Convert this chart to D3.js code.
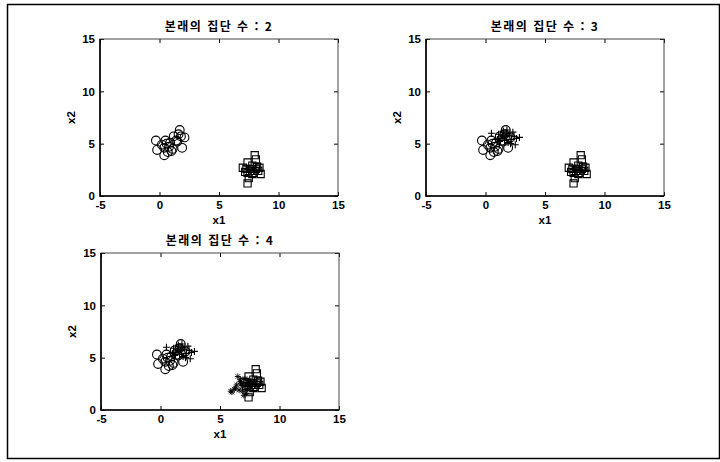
<!DOCTYPE html>
<html lang="ko">
<head>
  <meta charset="UTF-8">
  <script src="https://cdn.jsdelivr.net/npm/d3@7"></script>
  <title>본래의 집단 수</title>
  <style>
    body { margin: 0; background: #fff; }
    svg { display: block; }
  </style>
</head>
<body>
  <svg></svg>
<script>
const width = 720;
const height = 462;

// 축 범위와 눈금
const xTicks = [-5, 0, 5, 10, 15];
const yTicks = [0, 5, 10, 15];
const titles = ['본래의 집단 수 : 2', '본래의 집단 수 : 3', '본래의 집단 수 : 4'];

// 집단 A (원)
const groupA = [
  [-0.3, 5.3], [-0.2, 4.4], [0.4, 3.9], [0.5, 5.3], [1.7, 6.3], [1.9, 4.6],
  [2.1, 5.6], [1.0, 4.3], [1.4, 5.3], [0.8, 4.7], [0.6, 5.0], [1.2, 5.7],
  [1.6, 5.9], [0.2, 4.9], [1.1, 4.5], [0.9, 5.1], [0.4, 4.6], [1.5, 5.2],
  [1.8, 5.7], [0.7, 4.2]
];
// 집단 B (사각형)
const groupB = [
  [8.0, 3.9], [8.1, 3.5], [7.4, 3.2], [7.0, 2.7], [8.4, 2.7], [8.5, 2.1],
  [7.5, 1.7], [7.4, 1.2], [7.4, 2.2], [7.8, 2.1], [7.7, 2.6], [8.0, 2.4],
  [7.8, 2.9], [7.3, 2.6], [8.2, 2.8], [7.9, 2.2], [7.6, 2.4], [8.1, 2.6],
  [7.2, 2.3], [8.3, 2.4]
];
// 집단 C (+)
const groupC = [
  [0.5, 6.0], [2.85, 5.6], [2.5, 4.9], [1.5, 6.2], [1.8, 6.0], [2.0, 5.8],
  [1.3, 5.5], [1.6, 5.3], [2.2, 5.4], [1.9, 5.1], [1.1, 5.9], [2.3, 6.1],
  [1.4, 5.8], [1.7, 5.7], [2.1, 5.0], [1.2, 5.2], [2.6, 5.5], [1.0, 5.4],
  [1.8, 6.3], [2.4, 5.7]
];
// 집단 D (*)
const groupD = [
  [5.9, 1.8], [6.2, 2.0], [6.5, 3.2], [6.4, 2.4], [6.7, 2.7], [6.9, 2.2],
  [7.0, 1.4], [7.2, 2.5], [7.3, 2.0], [6.6, 1.9], [7.1, 3.0], [6.8, 2.5],
  [7.5, 2.3], [6.3, 2.1], [7.4, 2.8], [6.0, 1.7], [7.6, 2.6], [6.9, 1.8],
  [7.2, 1.6], [6.7, 2.9]
];

const panels = [
  { title: titles[0], left: 100, top: 39, groups: [['circle', groupA], ['square', groupB]] },
  { title: titles[1], left: 426, top: 39, groups: [['circle', groupA], ['square', groupB], ['plus', groupC]] },
  { title: titles[2], left: 101, top: 253, groups: [['circle', groupA], ['square', groupB], ['plus', groupC], ['star', groupD]] }
];
const innerWidth = 238;
const innerHeight = 157;

const svg = d3.select('svg').attr('width', width).attr('height', height);

// 바깥 테두리
svg.append('rect')
  .attr('x', 7.5).attr('y', 4.5)
  .attr('width', 712).attr('height', 454)
  .attr('fill', 'none').attr('stroke', '#000').attr('stroke-width', 1.5);

const xScale = d3.scaleLinear().domain([-5, 15]).range([0, innerWidth]);
const yScale = d3.scaleLinear().domain([0, 15]).range([innerHeight, 0]);
const plainFormat = d => String(d); // '-5' 하이픈 그대로

const symbolPath = {
  circle: 'M-4.4,0a4.4,4.4 0 1,0 8.8,0a4.4,4.4 0 1,0 -8.8,0',
  square: 'M-3.6,-3.6h7.2v7.2h-7.2z',
  plus: 'M-3.5,0h7M0,-3.5v7',
  star: 'M-3,0h6M0,-3v6M-2.2,-2.2l4.4,4.4M-2.2,2.2l4.4,-4.4'
};

const paintPanel = (panel) => {
  const g = svg.append('g').attr('transform', `translate(${panel.left}, ${panel.top})`);

  // 눈금 (안쪽으로)
  const xAxis = d3.axisBottom(xScale).tickValues(xTicks).tickFormat(plainFormat).tickSizeInner(-4).tickSizeOuter(0).tickPadding(5);
  const yAxis = d3.axisLeft(yScale).tickValues(yTicks).tickFormat(plainFormat).tickSizeInner(-4).tickSizeOuter(0).tickPadding(5);
  const xAxisTop = d3.axisTop(xScale).tickValues(xTicks).tickSizeInner(-4).tickSizeOuter(0);
  const yAxisRight = d3.axisRight(yScale).tickValues(yTicks).tickSizeInner(-4).tickSizeOuter(0);

  g.append('g').attr('transform', `translate(0, ${innerHeight})`).call(xAxis);
  g.append('g').call(yAxis);
  g.append('g').attr('class', 'mirror').call(xAxisTop);
  g.append('g').attr('class', 'mirror').attr('transform', `translate(${innerWidth}, 0)`).call(yAxisRight);

  g.selectAll('.mirror .tick text').remove();
  g.selectAll('.domain').remove();
  g.selectAll('.tick line').attr('stroke', '#000');
  g.selectAll('.tick text')
    .attr('fill', '#000')
    .style('font-family', '"Liberation Sans", Arial, sans-serif')
    .style('font-size', '11.5px')
    .style('font-weight', 'bold');

  // 축 상자
  g.append('rect')
    .attr('width', innerWidth).attr('height', innerHeight)
    .attr('fill', 'none').attr('stroke', '#444').attr('stroke-width', 1);
  g.append('path')
    .attr('d', `M0,0V${innerHeight}H${innerWidth}`)
    .attr('fill', 'none').attr('stroke', '#000').attr('stroke-width', 1.6);

  // 점
  panel.groups.forEach(([shape, pts]) => {
    g.append('g').selectAll('path')
      .data(pts)
      .enter()
      .append('path')
      .attr('transform', d => `translate(${xScale(d[0])}, ${yScale(d[1])})`)
      .attr('d', symbolPath[shape])
      .attr('fill', 'none')
      .attr('stroke', '#000')
      .attr('stroke-width', shape === 'star' ? 0.9 : 1.1);
  });

  // 제목, 축 이름
  g.append('text')
    .attr('x', innerWidth / 2).attr('y', -8)
    .attr('text-anchor', 'middle')
    .style('font-family', '"Noto Sans CJK KR", sans-serif')
    .style('font-size', '12px')
    .style('font-weight', 'bold')
    .style('letter-spacing', '1.5px')
    .text(panel.title);
  g.append('text')
    .attr('x', innerWidth / 2).attr('y', innerHeight + 28)
    .attr('text-anchor', 'middle')
    .style('font-family', '"Liberation Sans", Arial, sans-serif')
    .style('font-size', '11.5px')
    .style('font-weight', 'bold')
    .text('x1');
  g.append('text')
    .attr('transform', `translate(-25, ${innerHeight * 0.5}) rotate(-90)`)
    .attr('text-anchor', 'middle')
    .style('font-family', '"Liberation Sans", Arial, sans-serif')
    .style('font-size', '11.5px')
    .style('font-weight', 'bold')
    .text('x2');
};

panels.forEach(paintPanel);
</script>
</body>
</html>
